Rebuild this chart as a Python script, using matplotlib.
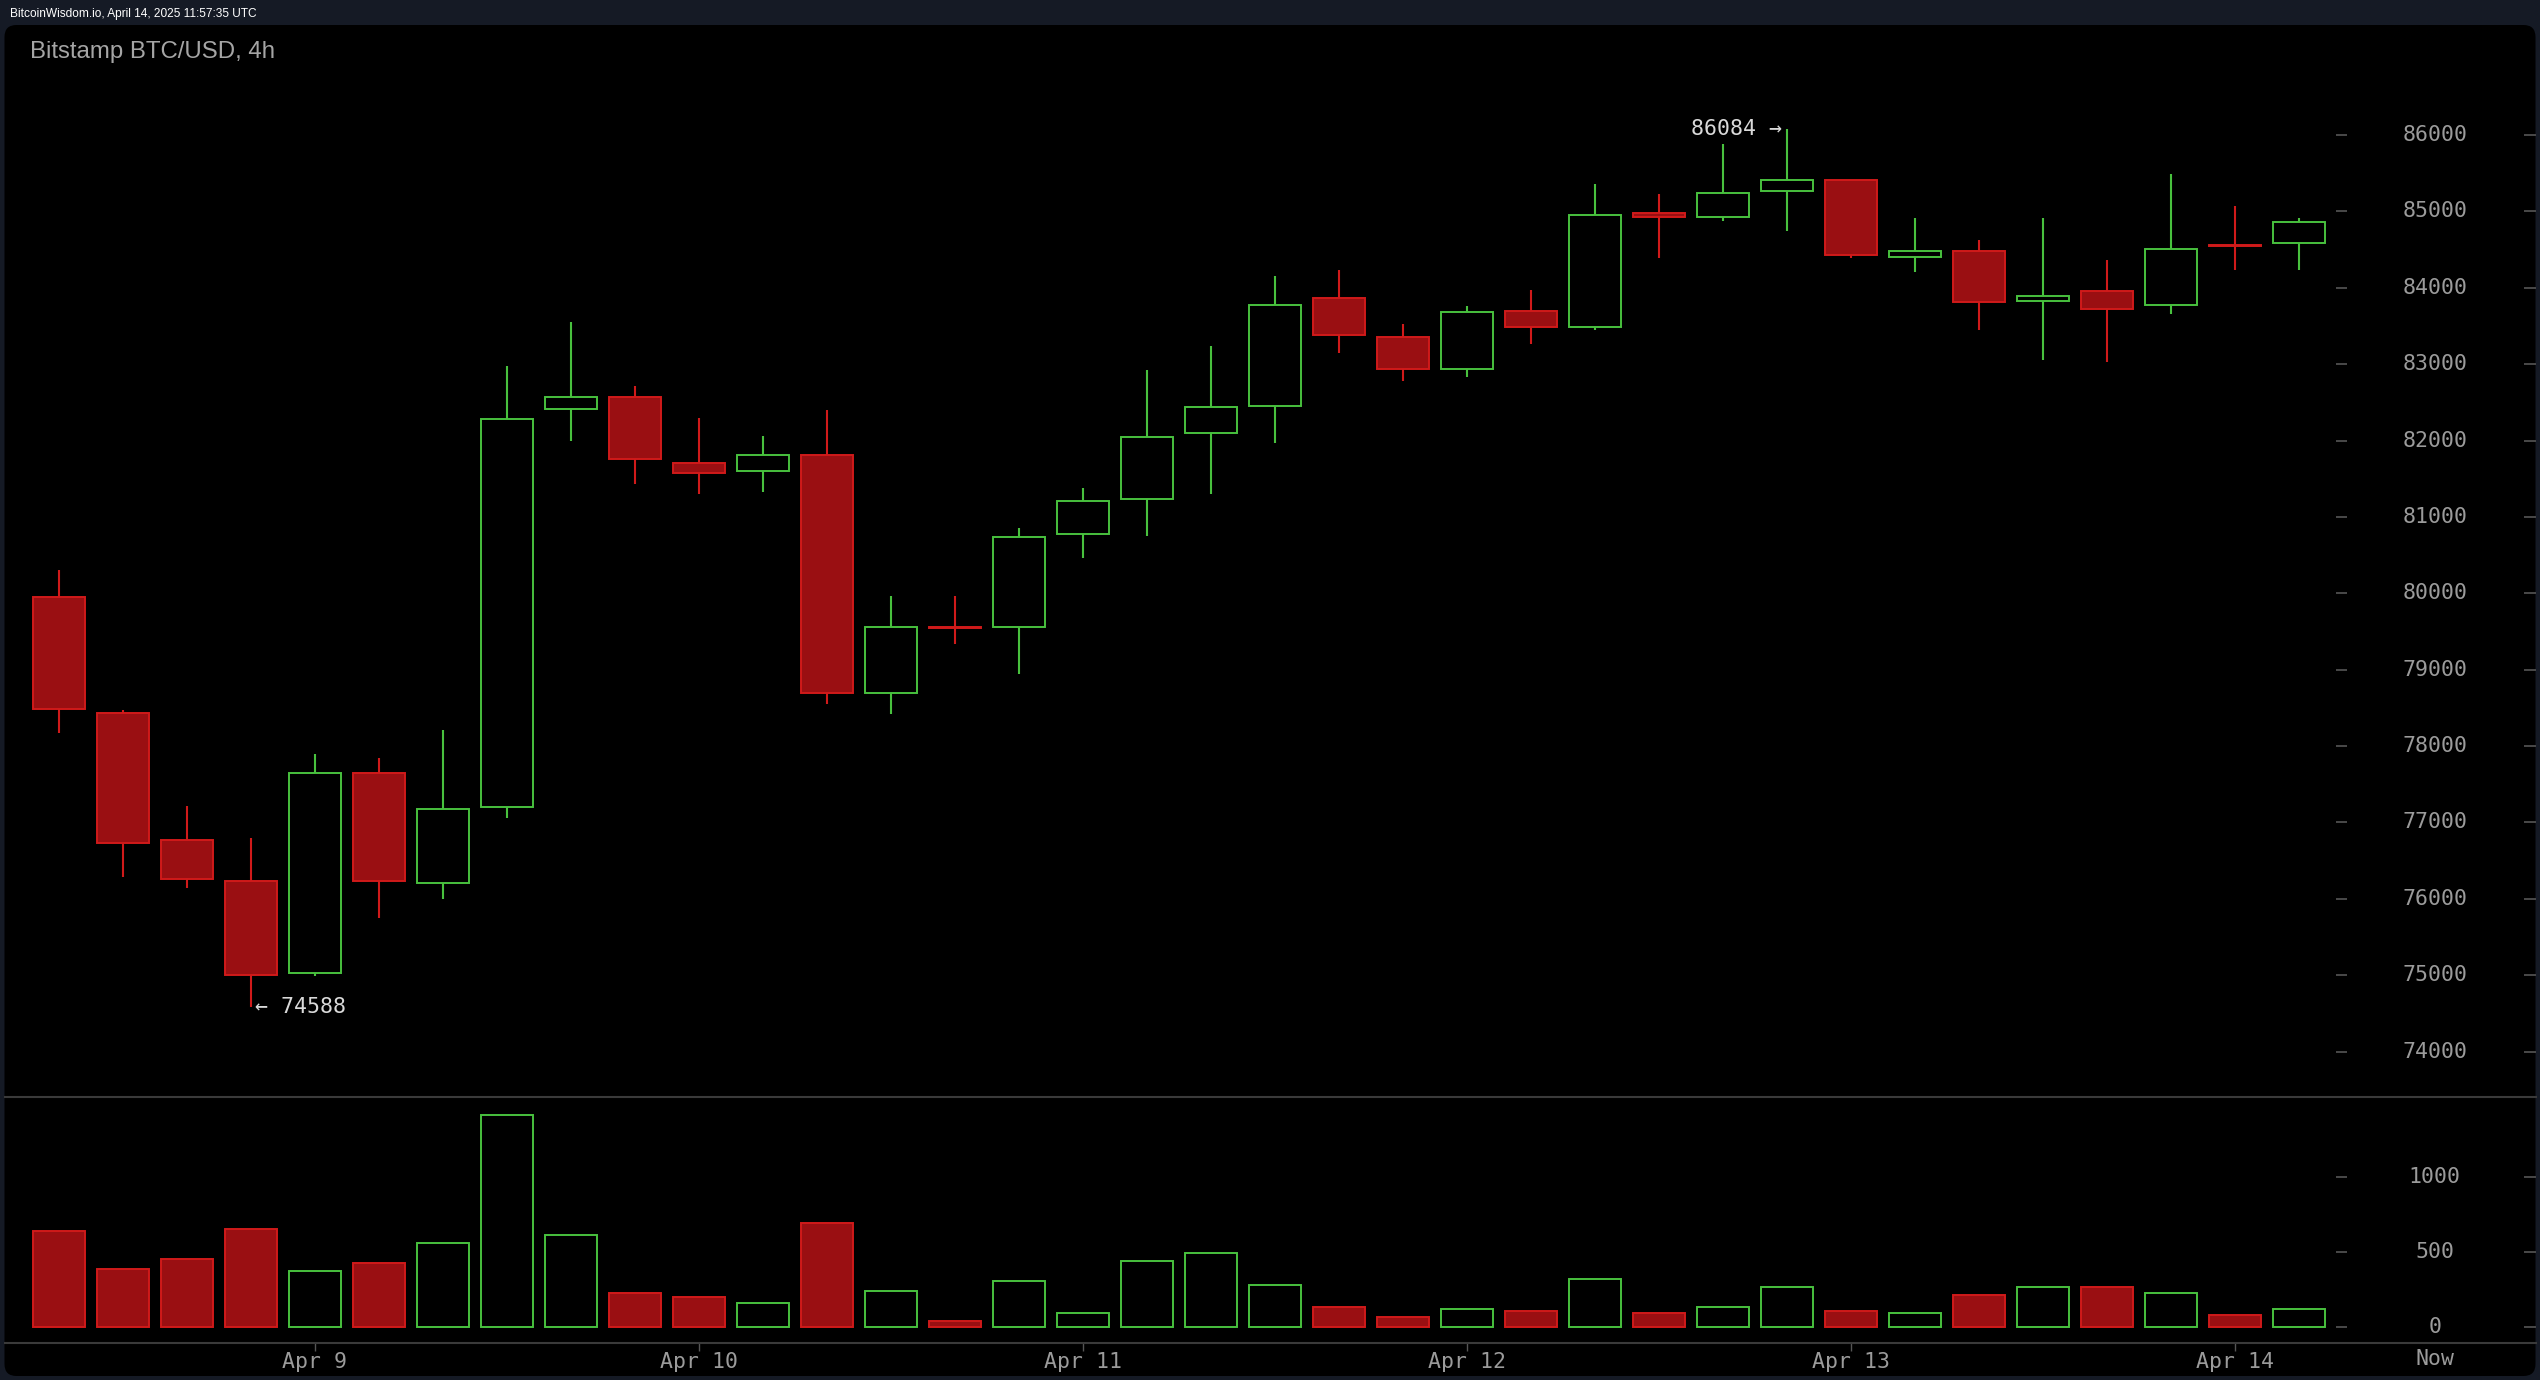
import numpy as np
import matplotlib.pyplot as plt
from matplotlib.patches import FancyBboxPatch
from matplotlib.lines import Line2D

# 4h candles, Apr 8 08:00 -> Apr 14 04:00
opens = [79954, 78434, 76764, 76238, 75035, 77649, 76213, 77206, 82409, 82576, 81708, 81599,
         81816, 78693, 79561, 79553, 80781, 81232, 82100, 82459, 83862, 83361, 82935, 83703,
         83486, 84981, 84923, 85265, 85407, 84405, 84488, 83829, 83962, 83779, 84555, 84589]
highs = [80305, 78467, 77215, 76797, 77900, 77841, 78209, 82977, 83553, 82718, 82292, 82058,
         82401, 79962, 79962, 80856, 81382, 82927, 83236, 84154, 84230, 83528, 83762, 83971,
         85357, 85232, 85883, 86084, 85407, 84914, 84622, 84914, 84363, 85491, 85073, 84914]
lows = [78167, 76288, 76146, 74588, 74993, 75753, 75996, 77064, 81992, 81432, 81298, 81323,
        78551, 78417, 79336, 78943, 80463, 80747, 81298, 81966, 83144, 82777, 82827, 83269,
        83453, 84397, 84873, 84739, 84397, 84205, 83453, 83060, 83035, 83662, 84238, 84238]
closes = [78484, 76730, 76263, 75002, 77649, 76238, 77181, 82284, 82576, 81758, 81574, 81816,
          78693, 79561, 79550, 80739, 81215, 82050, 82442, 83779, 83378, 82935, 83678, 83486,
          84956, 84923, 85248, 85407, 84430, 84488, 83820, 83887, 83729, 84514, 84545, 84856]
volumes = [642, 389, 456, 656, 376, 429, 562, 1416, 616, 229, 202, 162,
           696, 242, 42, 309, 96, 442, 496, 282, 136, 69, 122, 109,
           322, 96, 136, 269, 109, 96, 216, 269, 269, 229, 82, 122]

price_ticks = [74000, 75000, 76000, 77000, 78000, 79000, 80000,
               81000, 82000, 83000, 84000, 85000, 86000]
vol_ticks = [0, 500, 1000]
date_pos = [4, 10, 16, 22, 28, 34]
date_labels = ['Apr 9', 'Apr 10', 'Apr 11', 'Apr 12', 'Apr 13', 'Apr 14']

W, H = 2540, 1380
GREEN = '#48c13e'
RED_EDGE = '#d01a1a'
RED_FILL = '#9a0f12'
LABEL = '#9b9b9b'
TICK = '#4a4a4a'
MONO = 'DejaVu Sans Mono'


def fx(px):
    return px / W


def fy(py):
    return 1 - py / H


fig = plt.figure(figsize=(W / 100, H / 100), dpi=100)
fig.patch.set_facecolor('#151a25')

# black rounded chart panel, kept behind the axes
panel = FancyBboxPatch((0.045, 0.04), 25.31, 13.51,
                       boxstyle='round,pad=0,rounding_size=0.12',
                       transform=fig.dpi_scale_trans, facecolor='black', edgecolor='none',
                       zorder=-10)
fig.add_artist(panel)

ax = fig.add_axes([fx(5), fy(1097), fx(2536) - fx(5), (1097 - 25) / H])
ax_v = fig.add_axes([fx(5), fy(1343), fx(2536) - fx(5), (1343 - 1097) / H])

for a in (ax, ax_v):
    a.set_facecolor('none')
    for s in a.spines.values():
        s.set_visible(False)
    a.set_xlim(-0.84, 38.7)
    a.set_yticks([])

ax.set_ylim(73405, 87442)
ax_v.set_ylim(-107, 1533)
ax.set_xticks([])

o = np.array(opens, dtype=float)
c = np.array(closes, dtype=float)
hi = np.array(highs, dtype=float)
lo = np.array(lows, dtype=float)
v = np.array(volumes, dtype=float)
x = np.arange(len(o))
up = c >= o
body_lo = np.minimum(o, c)
body_hi = np.maximum(o, c)
body_h = np.maximum(body_hi - body_lo, 8)
colors = np.where(up, GREEN, RED_EDGE)

# wicks (outside the body so hollow candles stay hollow)
ax.vlines(x, lo, body_lo, colors=colors, lw=1.5, zorder=2)
ax.vlines(x, body_hi, hi, colors=colors, lw=1.5, zorder=2)

# bodies
ax.bar(x[up], body_h[up], bottom=body_lo[up], width=0.81, facecolor='black',
       edgecolor=GREEN, linewidth=1.4, zorder=3)
ax.bar(x[~up], body_h[~up], bottom=body_lo[~up], width=0.81, facecolor=RED_FILL,
       edgecolor=RED_EDGE, linewidth=1.4, zorder=3)

# volume bars
ax_v.bar(x[up], v[up], width=0.81, facecolor='black', edgecolor=GREEN, linewidth=1.4)
ax_v.bar(x[~up], v[~up], width=0.81, facecolor=RED_FILL, edgecolor=RED_EDGE, linewidth=1.4)

# right-hand scales
for t in price_ticks:
    ax.text(37.12, t, f'{t}', ha='center', va='center', family=MONO, size=15.5, color=LABEL)
ax.hlines(price_ticks, 35.57, 35.74, colors=TICK, lw=1.4)
ax.hlines(price_ticks, 38.51, 38.70, colors=TICK, lw=1.4)

for t in vol_ticks:
    ax_v.text(37.12, t, f'{t}', ha='center', va='center', family=MONO, size=15.5, color=LABEL)
ax_v.hlines(vol_ticks, 35.57, 35.74, colors=TICK, lw=1.4)
ax_v.hlines(vol_ticks, 38.51, 38.70, colors=TICK, lw=1.4)

# date axis
ax_v.set_xticks(date_pos, date_labels)
ax_v.tick_params(axis='x', length=5.8, width=1, color='#555555', labelcolor=LABEL,
                 labelsize=15.5, pad=0.5)
for lbl in ax_v.get_xticklabels():
    lbl.set_family(MONO)
fig.text(fx(2435), fy(1359), 'Now', ha='center', va='center', family=MONO,
         size=15.5, color=LABEL)

# high / low markers
i_hi = int(np.argmax(hi))
i_lo = int(np.argmin(lo))
ax.text(i_hi - 0.08, hi[i_hi], f'{int(hi[i_hi])} \u2192', ha='right', va='center',
        family=MONO, size=15.5, color='#d9d9d9')
ax.text(i_lo + 0.07, lo[i_lo], f'\u2190 {int(lo[i_lo])}', ha='left', va='center',
        family=MONO, size=15.5, color='#d9d9d9')

# separators
for py in (1097, 1343):
    fig.add_artist(Line2D([fx(4.5), fx(2535.5)], [fy(py), fy(py)], transform=fig.transFigure,
                          color='#3a3a3a', lw=1.5))

fig.text(fx(30), fy(52), 'Bitstamp BTC/USD, 4h', ha='left', va='center',
         family='Liberation Sans', size=17.3, color='#a5a5a5')
fig.text(fx(10), fy(14), 'BitcoinWisdom.io, April 14, 2025 11:57:35 UTC', ha='left',
         va='center', family='Liberation Sans', size=8.6, color='white')

fig.savefig('out.png', dpi=100, facecolor=fig.get_facecolor())
